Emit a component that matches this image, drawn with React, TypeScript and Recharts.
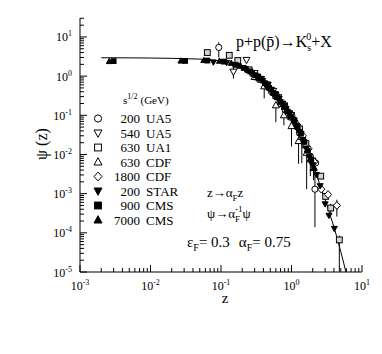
import React from "react";
import { ComposedChart, Scatter, XAxis, YAxis, ErrorBar, Legend } from "recharts";

const SERIF = '"Liberation Serif", "DejaVu Serif", serif';

// fitted scaling curve
const CURVE_Z = [0.002, 0.005, 0.01, 0.02, 0.03, 0.05, 0.07, 0.1, 0.15, 0.2, 0.3, 0.4, 0.5, 0.6, 0.7, 0.85, 1.0, 1.2, 1.4, 1.6, 1.8, 2.0, 2.2, 2.5, 3.0, 3.5, 4.0, 4.5, 5.0, 5.5, 5.9];
const CURVE_PSI = [2.95, 2.93, 2.9, 2.85, 2.8, 2.72, 2.62, 2.42, 2.05, 1.7, 1.1, 0.74, 0.5, 0.34, 0.24, 0.155, 0.105, 0.058, 0.032, 0.018, 0.0102, 0.006, 0.0036, 0.0018, 0.0007, 0.0003, 0.00014, 6.8e-5, 3.3e-5, 1.7e-5, 1.0e-5];

// 200 GeV UA5
const UA5_200_Z = [0.093, 0.28, 0.35, 0.44, 0.52, 0.6, 0.7, 0.82, 0.95, 1.1, 1.3, 1.55, 1.85, 2.2, 2.15];
const UA5_200_PSI = [5.4, 1.15, 0.82, 0.55, 0.4, 0.3, 0.2, 0.13, 0.09, 0.06, 0.035, 0.017, 0.009, 0.0061, 0.0013];
const UA5_200_LO = [3.0, null, null, null, null, null, null, null, null, null, null, null, null, null, 0.00014];
const UA5_200_HI = [7.3, null, null, null, null, null, null, null, null, null, null, null, null, null, 0.0055];

// 540 GeV UA5
const UA5_540_Z = [0.15, 0.23, 0.3, 0.37, 0.46, 0.55, 0.65, 0.78, 0.92, 1.1, 1.35, 1.65, 2.0];
const UA5_540_PSI = [1.3, 2.6, 1.2, 0.85, 0.6, 0.42, 0.29, 0.18, 0.115, 0.065, 0.033, 0.014, 0.0058];
const UA5_540_LO = [0.87, null, null, null, null, null, null, null, null, null, null, null, null];
const UA5_540_HI = [1.8, null, null, null, null, null, null, null, null, null, null, null, null];

// 630 GeV UA1
const UA1_630_Z = [0.064, 0.131, 0.173, 0.25, 0.33, 0.45, 0.6, 0.8, 1.0, 1.3, 1.6, 2.0, 2.6, 3.05, 3.6, 4.77];
const UA1_630_PSI = [4.0, 3.4, 2.5, 1.45, 0.95, 0.6, 0.32, 0.17, 0.1, 0.045, 0.019, 0.0068, 0.0028, 0.00085, 0.00043, 6.6e-5];
const UA1_630_LO = [null, null, null, null, null, null, null, null, null, null, null, null, null, null, 0.00032, 1.02e-5];
const UA1_630_HI = [null, null, null, null, null, null, null, null, null, null, null, null, null, null, 0.00055, 8.5e-5];

// 630 GeV CDF
const CDF_630_Z = [0.3, 0.41, 0.6, 0.78, 1.0, 1.26, 1.4, 1.64, 1.85, 2.05];
const CDF_630_PSI = [0.95, 0.55, 0.18, 0.1, 0.053, 0.022, 0.028, 0.011, 0.0075, 0.0045];
const CDF_630_LO = [null, 0.27, 0.067, 0.055, 0.016, 0.0058, 0.006, 0.0013, 0.0028, 0.0022];
const CDF_630_HI = [null, 0.62, 0.2, 0.115, 0.06, 0.025, 0.032, 0.012, 0.0085, 0.005];

// 1800 GeV CDF
const CDF_1800_Z = [0.45, 0.62, 0.8, 1.0, 1.2, 1.45, 1.75, 2.1, 2.65, 3.3, 4.4];
const CDF_1800_PSI = [0.58, 0.31, 0.165, 0.1, 0.058, 0.03, 0.014, 0.0065, 0.0013, 0.00095, 0.0005];
const CDF_1800_LO = [null, null, null, null, null, null, null, null, null, null, 0.00026];
const CDF_1800_HI = [null, null, null, null, null, null, null, null, null, null, 0.0007];

// 200 GeV STAR
const STAR_200_Z = [0.078, 0.12, 0.17, 0.22, 0.27, 0.33, 0.39, 0.45, 0.52, 0.59, 0.67, 0.75, 0.84, 0.94, 1.05, 1.17, 1.3, 1.45, 1.62, 1.8, 2.0, 2.25, 2.55, 3.0, 3.4, 4.05];
const STAR_200_PSI = [2.3, 2.25, 1.88, 1.55, 1.25, 0.98, 0.78, 0.6, 0.46, 0.36, 0.27, 0.205, 0.15, 0.11, 0.08, 0.055, 0.038, 0.024, 0.0145, 0.009, 0.0055, 0.0031, 0.0016, 0.00055, 0.00028, 0.00013];

// 900 GeV CMS
const CMS_900_Z = [0.003, 0.031, 0.064, 0.11, 0.16, 0.21, 0.26, 0.31, 0.36, 0.42, 0.48, 0.55, 0.62, 0.7, 0.78, 0.88, 0.98, 1.1, 1.22, 1.36, 1.52, 1.7, 1.9];
const CMS_900_PSI = [2.42, 2.45, 2.5, 2.35, 1.95, 1.62, 1.32, 1.05, 0.86, 0.66, 0.5, 0.37, 0.29, 0.22, 0.165, 0.125, 0.092, 0.075, 0.05, 0.034, 0.021, 0.0125, 0.0075];

// 7000 GeV CMS
const CMS_7000_Z = [0.0026, 0.027, 0.057, 0.095, 0.14, 0.19, 0.24, 0.29, 0.34, 0.4, 0.46, 0.53, 0.6, 0.68, 0.76, 0.86, 0.96, 1.08, 1.2, 1.34, 1.5, 1.68, 1.88, 2.1];
const CMS_7000_PSI = [2.35, 2.42, 2.5, 2.4, 2.12, 1.78, 1.42, 1.18, 0.95, 0.75, 0.58, 0.44, 0.34, 0.26, 0.19, 0.14, 0.105, 0.075, 0.052, 0.035, 0.022, 0.013, 0.0078, 0.0045];

type Shape = "circle" | "up" | "down" | "square" | "diamond";
type Num = number | null;

function points(z: number[], psi: number[], lo?: Num[], hi?: Num[]) {
  return z.map((x, i) => {
    const y = psi[i];
    const l = lo ? lo[i] : null;
    const h = hi ? hi[i] : null;
    return { x, y, err: l != null && h != null ? [y - l, h - y] : [0, 0] };
  });
}

const SERIES = [
  { id: "ua5200", energy: "200", exp: "UA5", shape: "circle" as Shape, filled: false, data: points(UA5_200_Z, UA5_200_PSI, UA5_200_LO, UA5_200_HI) },
  { id: "ua5540", energy: "540", exp: "UA5", shape: "down" as Shape, filled: false, data: points(UA5_540_Z, UA5_540_PSI, UA5_540_LO, UA5_540_HI) },
  { id: "ua1630", energy: "630", exp: "UA1", shape: "square" as Shape, filled: false, gray: true, data: points(UA1_630_Z, UA1_630_PSI, UA1_630_LO, UA1_630_HI) },
  { id: "cdf630", energy: "630", exp: "CDF", shape: "up" as Shape, filled: false, data: points(CDF_630_Z, CDF_630_PSI, CDF_630_LO, CDF_630_HI) },
  { id: "cdf1800", energy: "1800", exp: "CDF", shape: "diamond" as Shape, filled: false, data: points(CDF_1800_Z, CDF_1800_PSI, CDF_1800_LO, CDF_1800_HI) },
  { id: "star200", energy: "200", exp: "STAR", shape: "down" as Shape, filled: true, data: points(STAR_200_Z, STAR_200_PSI) },
  { id: "cms900", energy: "900", exp: "CMS", shape: "square" as Shape, filled: true, data: points(CMS_900_Z, CMS_900_PSI) },
  { id: "cms7000", energy: "7000", exp: "CMS", shape: "up" as Shape, filled: true, data: points(CMS_7000_Z, CMS_7000_PSI) },
];

const CURVE = CURVE_Z.map((x, i) => ({ x, y: CURVE_PSI[i] }));

function Marker({ shape, filled, gray, cx, cy, s = 7 }: { shape: Shape; filled: boolean; gray?: boolean; cx: number; cy: number; s?: number }) {
  const fill = filled ? "#000" : gray ? "#d4d4d4" : "#fff";
  const h = s / 2;
  const common = { fill, stroke: "#000", strokeWidth: 1 };
  switch (shape) {
    case "circle":
      return <circle cx={cx} cy={cy} r={h - 0.4} {...common} />;
    case "square":
      return <rect x={cx - h + 0.6} y={cy - h + 0.6} width={s - 1.2} height={s - 1.2} {...common} />;
    case "up":
      return <path d={`M${cx},${cy - h - 0.3}L${cx + h},${cy + h - 1}L${cx - h},${cy + h - 1}Z`} {...common} />;
    case "down":
      return <path d={`M${cx},${cy + h + 0.3}L${cx + h},${cy - h + 1}L${cx - h},${cy - h + 1}Z`} {...common} />;
    default:
      return <path d={`M${cx},${cy - h - 0.4}L${cx + h},${cy}L${cx},${cy + h + 0.4}L${cx - h},${cy}Z`} {...common} />;
  }
}

// log ticks: 1..9 x 10^e
function logTicks(lo: number, hi: number) {
  const out: number[] = [];
  for (let e = lo; e <= hi; e++) for (let m = 1; m <= 9; m++) out.push(m * Math.pow(10, e));
  return out;
}
const X_TICKS = logTicks(-3, 0).concat([10]);
const Y_TICKS = logTicks(-5, 1).filter((v) => v <= 30.5);

const isMajor = (v: number) => Math.abs(Math.log10(v) - Math.round(Math.log10(v))) < 1e-6;

function Pow({ x, y, v, anchor }: { x: number; y: number; v: number; anchor: "middle" | "end" }) {
  const e = Math.round(Math.log10(v));
  return (
    <text x={x} y={y} textAnchor={anchor} fontFamily={SERIF} fontSize={12} fill="#000">
      10<tspan dy={-5} fontSize={8}>{e}</tspan>
    </text>
  );
}

function makeTick(side: "bottom" | "top" | "left" | "right") {
  return (p: any) => {
    const { x, y, payload } = p;
    const major = isMajor(payload.value);
    const len = major ? 7 : 4;
    if (side === "bottom")
      return (
        <g>
          <line x1={x} x2={x} y1={y} y2={y - len} stroke="#000" />
          {major && <Pow x={x} y={y + 18} v={payload.value} anchor="middle" />}
        </g>
      );
    if (side === "top") return <line x1={x} x2={x} y1={y} y2={y + len} stroke="#000" />;
    if (side === "left")
      return (
        <g>
          <line x1={x} x2={x + len} y1={y} y2={y} stroke="#000" />
          {major && <Pow x={x - 8} y={y + 4.5} v={payload.value} anchor="end" />}
        </g>
      );
    return <line x1={x} x2={x - len} y1={y} y2={y} stroke="#000" />;
  };
}

function LegendBox() {
  return (
    <svg width={382} height={354} style={{ position: "absolute", left: 0, top: 0 }}>
      <text x={123} y={104} fontFamily={SERIF} fontSize={11} fill="#000">
        s<tspan dy={-5} fontSize={8}>1/2</tspan>
        <tspan dy={5} dx={3}>(GeV)</tspan>
      </text>
      {SERIES.map((s, i) => {
        const y = 118.5 + i * 14.5;
        return (
          <g key={s.id}>
            <Marker shape={s.shape} filled={s.filled} cx={98} cy={y} s={8} />
            <text x={140} y={y + 4.5} textAnchor="end" fontFamily={SERIF} fontSize={13} fill="#000">
              {s.energy}
            </text>
            <text x={146} y={y + 4.5} fontFamily={SERIF} fontSize={13} fill="#000">
              {s.exp}
            </text>
          </g>
        );
      })}
    </svg>
  );
}

export default function App() {
  return (
    <div style={{ position: "absolute", left: 0, top: 0, width: 382, height: 354, background: "#fff" }}>
      <ComposedChart width={382} height={354} margin={{ top: 18, right: 20, bottom: 52, left: 20 }}>
        <XAxis xAxisId="b" dataKey="x" type="number" scale="log" domain={[1e-3, 10]} allowDataOverflow ticks={X_TICKS} interval={0} tickSize={0} tickMargin={0} tickLine={false} axisLine={{ stroke: "#000" }} height={30} tick={makeTick("bottom")} />
        <XAxis xAxisId="t" orientation="top" dataKey="x" type="number" scale="log" domain={[1e-3, 10]} allowDataOverflow ticks={X_TICKS} interval={0} tickSize={0} tickMargin={0} tickLine={false} axisLine={{ stroke: "#000" }} height={0} tick={makeTick("top")} />
        <YAxis yAxisId="l" dataKey="y" type="number" scale="log" domain={[1e-5, 30.5]} allowDataOverflow ticks={Y_TICKS} interval={0} tickSize={0} tickMargin={0} tickLine={false} axisLine={{ stroke: "#000" }} width={60} tick={makeTick("left")} />
        <YAxis yAxisId="r" orientation="right" dataKey="y" type="number" scale="log" domain={[1e-5, 30.5]} allowDataOverflow ticks={Y_TICKS} interval={0} tickSize={0} tickMargin={0} tickLine={false} axisLine={{ stroke: "#000" }} width={0} tick={makeTick("right")} />
        <Scatter xAxisId="b" yAxisId="l" data={CURVE} dataKey="y" line={{ stroke: "#000", strokeWidth: 1 }} lineType="joint" shape={() => <g />} legendType="none" isAnimationActive={false} />
        {SERIES.map((s) => (
          <Scatter
            key={s.id}
            name={`${s.energy} ${s.exp}`}
            xAxisId="b"
            yAxisId="l"
            data={s.data}
            dataKey="y"
            isAnimationActive={false}
            shape={(p: any) => <Marker shape={s.shape} filled={s.filled} gray={(s as any).gray} cx={p.cx} cy={p.cy} s={s.filled ? 6 : 7} />}
          >
            <ErrorBar dataKey="err" direction="y" width={0} stroke="#000" strokeWidth={1} isAnimationActive={false} />
          </Scatter>
        ))}
        <Legend layout="vertical" align="center" verticalAlign="middle" wrapperStyle={{ left: 0, top: 0, width: 382, height: 354 }} content={() => <LegendBox />} />
        <g fontFamily={SERIF} fill="#000">
          <text x={236} y={47} fontSize={16}>
            p+p(p̄)→K<tspan dy={4} fontSize={10}>s</tspan>
            <tspan dx={-5} dy={-11} fontSize={10}>0</tspan>
            <tspan dy={7}>+X</tspan>
          </text>
          <text x={207} y={197} fontSize={13}>
            z→α<tspan dy={4} fontSize={9}>F</tspan>
            <tspan dy={-4}>z</tspan>
          </text>
          <text x={207} y={218} fontSize={13}>
            ψ→α<tspan dy={4} fontSize={9}>F</tspan>
            <tspan dx={-5} dy={-10} fontSize={9}>-1</tspan>
            <tspan dy={6}>ψ</tspan>
          </text>
          <text x={187} y={247} fontSize={15}>
            ε<tspan dy={4} fontSize={10}>F</tspan>
            <tspan dy={-4}>= 0.3</tspan>
            <tspan dx={9}>α</tspan>
            <tspan dy={4} fontSize={10}>F</tspan>
            <tspan dy={-4}>= 0.75</tspan>
          </text>
          <text x={225} y={303} fontSize={15} textAnchor="middle">z</text>
          <text x={0} y={0} fontSize={16} textAnchor="middle" transform="translate(47,144) rotate(-90)">ψ (z)</text>
        </g>
      </ComposedChart>
    </div>
  );
}
